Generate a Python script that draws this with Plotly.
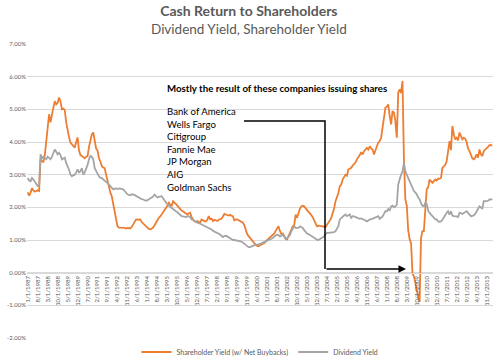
import plotly.graph_objects as go

# Monthly categories, 1/1/1987 .. 3/1/2014
months = [f"{m}/1/{y}" for y in range(1987, 2015) for m in range(1, 13)][:327]

shareholder_yield = [
    # 1987
    2.46, 2.36, 2.45, 2.58, 2.52, 2.48, 2.50, 2.52, 2.50, 3.47, 3.42, 3.38,
    # 1988
    3.60, 4.08, 4.39, 4.85, 4.60, 4.90, 5.05, 5.25, 5.15, 5.20, 5.36, 5.25,
    # 1989
    5.00, 5.02, 4.98, 4.60, 4.30, 4.15, 3.98, 3.93, 3.85, 3.83, 4.00, 4.14,
    # 1990
    3.74, 3.60, 3.57, 3.52, 3.50, 3.55, 3.57, 3.85, 4.03, 4.23, 4.29, 4.08,
    # 1991
    3.80, 3.74, 3.50, 3.40, 3.26, 3.22, 3.20, 3.00, 2.80, 2.55, 2.45, 2.34,
    # 1992
    2.10, 1.80, 1.60, 1.42, 1.38, 1.38, 1.36, 1.38, 1.37, 1.35, 1.37, 1.36,
    # 1993
    1.36, 1.40, 1.48, 1.58, 1.63, 1.62, 1.63, 1.63, 1.55, 1.50, 1.47, 1.42,
    # 1994
    1.38, 1.34, 1.33, 1.35, 1.38, 1.45, 1.53, 1.60, 1.68, 1.72, 1.78, 1.83,
    # 1995
    1.90, 1.98, 2.05, 2.14, 2.08, 2.05, 2.19, 2.15, 2.10, 2.05, 2.00, 1.93,
    # 1996
    1.90, 1.88, 1.85, 1.80, 1.78, 1.82, 1.83, 1.70, 1.63, 1.57, 1.55, 1.58,
    # 1997
    1.56, 1.53, 1.63, 1.60, 1.58, 1.57, 1.62, 1.73, 1.63, 1.65, 1.58, 1.62,
    # 1998
    1.60, 1.58, 1.62, 1.63, 1.65, 1.72, 1.80, 1.78, 1.76, 1.75, 1.77, 1.73,
    # 1999
    1.72, 1.60, 1.63, 1.63, 1.60, 1.58, 1.56, 1.53, 1.45, 1.27, 1.18, 1.12,
    # 2000
    1.06, 1.02, 0.95, 0.88, 0.85, 0.82, 0.81, 0.84, 0.86, 0.90, 0.91, 0.96,
    # 2001
    1.00, 1.02, 1.05, 1.09, 1.15, 1.20, 1.28, 1.35, 1.42, 1.27, 1.18, 1.20,
    # 2002
    1.11, 1.05, 1.02, 1.12, 1.17, 1.27, 1.42, 1.45, 1.78, 1.68, 1.86, 1.96,
    # 2003
    2.03, 2.05, 2.03, 1.96, 1.90, 1.86, 1.82, 1.76, 1.70, 1.60, 1.50, 1.42,
    # 2004
    1.44, 1.43, 1.42, 1.40, 1.39, 1.40, 1.47, 1.52, 1.60, 1.68, 1.81, 1.96,
    # 2005
    2.19, 2.30, 2.44, 2.65, 2.70, 2.85, 2.92, 3.00, 2.97, 3.16, 3.18, 3.21,
    # 2006
    3.28, 3.33, 3.37, 3.47, 3.52, 3.60, 3.69, 3.62, 3.72, 3.77, 3.82, 3.77,
    # 2007
    3.87, 3.80, 3.77, 3.62, 3.72, 3.87, 3.98, 4.03, 4.13, 4.49, 4.80, 5.05,
    # 2008
    5.08, 5.15, 4.80, 4.54, 4.95, 4.90, 4.64, 4.13, 5.51, 5.61, 5.50, 5.87,
    # 2009
    3.47, 2.24, 2.05, 1.30, 1.02, 0.90, -0.02, -0.12, -0.30, -0.55, -0.75, -0.90,
    # 2010
    1.06, 1.27, 1.27, 1.93, 2.55, 2.62, 2.85, 2.80, 2.75, 2.80, 2.85, 2.82,
    # 2011
    2.88, 2.87, 2.90, 3.21, 3.26, 3.30, 3.42, 3.67, 4.03, 3.75, 4.49, 4.23,
    # 2012
    4.08, 4.13, 4.05, 4.29, 4.20, 4.08, 4.13, 4.10, 4.00, 3.80, 3.72, 3.57,
    # 2013
    3.50, 3.47, 3.52, 3.62, 3.52, 3.77, 3.62, 3.57, 3.72, 3.77, 3.80, 3.85,
    # 2014
    3.90, 3.90, 3.90,
]

dividend_yield = [
    # 1987
    2.90, 2.82, 2.80, 2.90, 2.85, 2.77, 2.72, 2.65, 2.68, 3.62, 3.50, 3.55,
    # 1988
    3.50, 3.47, 3.55, 3.52, 3.47, 3.55, 3.67, 3.77, 3.70, 3.62, 3.67, 3.60,
    # 1989
    3.47, 3.50, 3.52, 3.36, 3.26, 3.15, 3.00, 2.95, 2.98, 3.00, 3.07, 3.16,
    # 1990
    3.07, 3.10, 3.20, 3.00, 3.07, 3.16, 3.30, 3.47, 3.57, 3.55, 3.47, 3.20,
    # 1991
    3.10, 3.00, 2.95, 2.90, 2.90, 2.85, 2.80, 2.78, 2.75, 2.70, 2.65, 2.60,
    # 1992
    2.55, 2.57, 2.58, 2.56, 2.58, 2.57, 2.56, 2.55, 2.50, 2.44, 2.40, 2.38,
    # 1993
    2.37, 2.40, 2.40, 2.38, 2.35, 2.32, 2.29, 2.26, 2.25, 2.24, 2.22, 2.20,
    # 1994
    2.22, 2.25, 2.28, 2.29, 2.33, 2.39, 2.35, 2.30, 2.32, 2.34, 2.34, 2.28,
    # 1995
    2.20, 2.15, 2.10, 2.05, 2.02, 1.98, 1.95, 1.90, 1.88, 1.85, 1.80, 1.78,
    # 1996
    1.73, 1.72, 1.70, 1.70, 1.72, 1.73, 1.70, 1.63, 1.62, 1.58, 1.56, 1.53,
    # 1997
    1.52, 1.50, 1.48, 1.46, 1.42, 1.40, 1.38, 1.37, 1.34, 1.32, 1.28, 1.25,
    # 1998
    1.23, 1.21, 1.20, 1.17, 1.14, 1.09, 1.12, 1.13, 1.11, 1.08, 1.05, 1.03,
    # 1999
    1.00, 1.00, 0.99, 1.00, 0.98, 0.98, 0.95, 0.92, 0.88, 0.86, 0.82, 0.78,
    # 2000
    0.78, 0.80, 0.80, 0.84, 0.86, 0.85, 0.86, 0.88, 0.90, 0.92, 0.95, 0.96,
    # 2001
    0.98, 1.00, 1.02, 1.03, 1.06, 1.11, 1.14, 1.17, 1.15, 1.11, 1.13, 1.17,
    # 2002
    1.10, 1.03, 1.05, 1.11, 1.15, 1.27, 1.35, 1.42, 1.37, 1.37, 1.37, 1.42,
    # 2003
    1.40, 1.37, 1.30, 1.23, 1.20, 1.18, 1.15, 1.11, 1.09, 1.06, 1.03, 1.01,
    # 2004
    1.00, 1.03, 1.06, 1.08, 1.11, 1.18, 1.22, 1.22, 1.22, 1.22, 1.22, 1.24,
    # 2005
    1.27, 1.35, 1.42, 1.63, 1.68, 1.72, 1.75, 1.78, 1.73, 1.76, 1.78, 1.68,
    # 2006
    1.73, 1.72, 1.70, 1.68, 1.67, 1.65, 1.66, 1.63, 1.62, 1.60, 1.57, 1.60,
    # 2007
    1.63, 1.63, 1.65, 1.66, 1.68, 1.70, 1.73, 1.65, 1.68, 1.72, 1.80, 1.88,
    # 2008
    1.88, 1.95, 1.90, 2.03, 2.05, 2.00, 2.03, 2.08, 2.70, 2.90, 3.00, 3.10,
    # 2009
    3.36, 3.10, 3.00, 2.85, 2.75, 2.65, 2.55, 2.50, 2.45, 2.40, 2.30, 2.25,
    # 2010
    2.12, 2.05, 2.03, 2.14, 2.10, 1.90, 1.83, 1.78, 1.70, 1.66, 1.63, 1.63,
    # 2011
    1.57, 1.56, 1.57, 1.62, 1.70, 1.78, 1.83, 1.88, 1.78, 1.88, 1.75, 1.73,
    # 2012
    1.73, 1.72, 1.70, 1.83, 1.82, 1.80, 1.83, 1.85, 1.88, 1.83, 1.78, 1.73,
    # 2013
    1.74, 1.75, 1.80, 1.88, 1.95, 2.03, 2.00, 1.95, 2.19, 2.18, 2.19, 2.20,
    # 2014
    2.24, 2.24, 2.25,
]

y_ticks = [-2, -1, 0, 1, 2, 3, 4, 5, 6, 7]
y_tick_text = [f"{v:.2f}%" for v in y_ticks]
x_tick_labels = months[::7]

title_text = "Cash Return to Shareholders"
subtitle_text = "Dividend Yield, Shareholder Yield"
note_title = "Mostly the result of these companies issuing shares"
companies = ["Bank of America", "Wells Fargo", "Citigroup", "Fannie Mae",
             "JP Morgan", "AIG", "Goldman Sachs"]

FONT = "Lato, Carlito, Liberation Sans, sans-serif"
ORANGE = "#ED7D31"
GREY = "#A5A5A5"
TXT = "#595959"

fig = go.Figure()
fig.add_trace(go.Scatter(x=months, y=shareholder_yield, mode="lines",
                         name="Shareholder Yield (w/ Net Buybacks)",
                         line=dict(color=ORANGE, width=1.8)))
fig.add_trace(go.Scatter(x=months, y=dividend_yield, mode="lines",
                         name="Dividend Yield",
                         line=dict(color=GREY, width=1.8)))

# Layout geometry (pixels)
W, H = 500, 362
ml, mr, mt, mb = 27, 7, 44, 24
pw = W - ml - mr
ph = H - mt - mb

def px(x):
    return (x - ml) / pw

def py(y):
    return (H - mb - y) / ph

annotations = [
    dict(text=f"<b>{title_text}</b><br><span style='font-size:13.5px'>{subtitle_text}</span>",
         x=px(249), y=py(20), xref="paper", yref="paper", showarrow=False,
         yanchor="middle", align="center",
         font=dict(size=14, color=TXT, family=FONT)),
    dict(text=f"<b>{note_title}</b>", x=px(165), y=py(88), xref="paper", yref="paper",
         showarrow=False, xanchor="left", yanchor="middle",
         font=dict(size=9.7, color="#000000", family=FONT)),
]
for k, name in enumerate(companies):
    annotations.append(dict(text=name, x=px(165), y=py(111.7 + 12.55 * k), xref="paper",
                            yref="paper", showarrow=False, xanchor="left", yanchor="middle",
                            font=dict(size=9.6, color="#000000", family=FONT)))

# elbow connector arrow (last leg with arrowhead)
annotations.append(dict(x=px(406), y=py(269), ax=-81, ay=0,
                        xref="paper", yref="paper", axref="pixel", ayref="pixel",
                        showarrow=True, arrowhead=2, arrowsize=1, arrowwidth=1.5,
                        arrowcolor="#000000", text=""))

shapes = [dict(type="path", xref="paper", yref="paper",
               path=f"M {px(244)},{py(121)} L {px(325)},{py(121)} L {px(325)},{py(269)}",
               line=dict(color="#000000", width=1.5))]

fig.update_layout(
    width=W, height=H,
    margin=dict(l=ml, r=mr, t=mt, b=mb, autoexpand=False),
    paper_bgcolor="white", plot_bgcolor="white",
    font=dict(family=FONT, color=TXT),
    showlegend=True,
    legend=dict(orientation="h", x=0.5, xanchor="center", y=py(352), yanchor="middle",
                font=dict(size=7, color=TXT, family=FONT), itemwidth=30,
                bgcolor="rgba(0,0,0,0)"),
    annotations=annotations,
    shapes=shapes,
    xaxis=dict(type="category", categoryorder="array", categoryarray=months,
               range=[-0.5, len(months) - 0.5], automargin=False,
               tickmode="array", tickvals=x_tick_labels, ticktext=x_tick_labels,
               tickangle=-90, tickfont=dict(size=6, color=TXT, family=FONT),
               showgrid=False, anchor="free", position=2 / 9,
               showline=True, linecolor="#D9D9D9", linewidth=1, ticks=""),
    yaxis=dict(range=[-2, 7], tickmode="array", tickvals=y_ticks, ticktext=y_tick_text,
               tickfont=dict(size=6, color=TXT, family=FONT), automargin=False,
               showgrid=True, gridcolor="#D9D9D9", gridwidth=1,
               zeroline=False, showline=False, ticks=""),
)

fig.write_html("out.html", config={"displayModeBar": False},
               post_script="document.body.style.margin='0px';document.body.style.padding='0px';")
